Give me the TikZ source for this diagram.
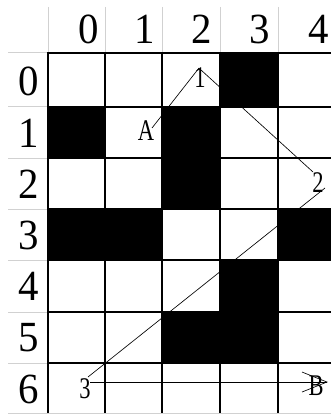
\documentclass[tikz,border=0pt]{standalone}
\usepackage{fontspec}
\setmainfont{Liberation Serif}
\begin{document}
\begin{tikzpicture}[x=1pt,y=-1pt,
  hdr/.style={font=\fontsize{43}{43}\selectfont, inner sep=0pt, xscale=0.95},
  lbl/.style={font=\fontsize{30}{30}\selectfont, inner sep=0pt, xscale=0.75},
  cellfill/.style={fill=black},
  gridline/.style={line width=1.3pt},
  hdrline/.style={line width=1pt, draw=black!18},
  path/.style={line width=0.65pt}]
\useasboundingbox (0,0) rectangle (331,414);
\fill[white] (0,0) rectangle (331,414);
% header gray lines
\foreach \x in {48,105,162,220,278} \draw[hdrline] (\x,7) -- (\x,53);
\foreach \y in {53,107,158,209,260,312,363} \draw[hdrline] (8,\y) -- (48,\y);
\draw[hdrline] (8,413.5) -- (331,413.5);
% header labels
\node[hdr, anchor=east] (h0) at (99,29) {0};
\node[hdr, anchor=east] (h1) at (155,29) {1};
\node[hdr, anchor=east] (h2) at (212,29) {2};
\node[hdr, anchor=east] (h3) at (270,29) {3};
\node[hdr, anchor=east] (h4) at (329,29) {4};
\node[hdr, anchor=west] (r0) at (18,81) {0};
\node[hdr, anchor=west] (r1) at (18,133) {1};
\node[hdr, anchor=west] (r2) at (18,184) {2};
\node[hdr, anchor=west] (r3) at (18,235) {3};
\node[hdr, anchor=west] (r4) at (18,286) {4};
\node[hdr, anchor=west] (r5) at (18,338) {5};
\node[hdr, anchor=west] (r6) at (18,389) {6};
% path labels
\node[lbl] (p1) at (200,78) {1};
\node[lbl] (pA) at (146,131) {A};
\node[lbl] (p2) at (318,183) {2};
\node[lbl] (p3) at (85,389) {3};
\node[lbl] (pB) at (316,386) {B};
\coordinate (a0) at (152,128);
\coordinate (a1) at (199,68);
\coordinate (b0) at (201,70);
\coordinate (b1) at (313,172);
\coordinate (c0) at (325,188);
\coordinate (c1) at (88,377);
\coordinate (d0) at (90,382);
\coordinate (d1) at (327,382);
\coordinate (e1) at (302,372);
\coordinate (e2) at (302,392);
\draw[path] (a0) -- (a1);
\draw[path] (b0) -- (b1);
\draw[path] (c0) -- (c1);
\draw[path] (d0) -- (d1);
\draw[path] (e1) -- (d1) -- (e2);
% black cells
\fill[cellfill] (220,53) rectangle (278,107);
\fill[cellfill] (48,107) rectangle (105,158);
\fill[cellfill] (162,107) rectangle (220,209);
\fill[cellfill] (48,209) rectangle (162,260);
\fill[cellfill] (278,209) rectangle (331,260);
\fill[cellfill] (220,260) rectangle (278,363);
\fill[cellfill] (162,312) rectangle (220,363);
% grid
\foreach \y in {107,158,209,260,312,363} \draw[gridline] (48,\y) -- (331,\y);
\foreach \x in {105,162,220,278} \draw[gridline] (\x,53) -- (\x,413);
\draw[line width=2pt] (331,53) -- (48,53) -- (48,413);
\end{tikzpicture}
\end{document}
